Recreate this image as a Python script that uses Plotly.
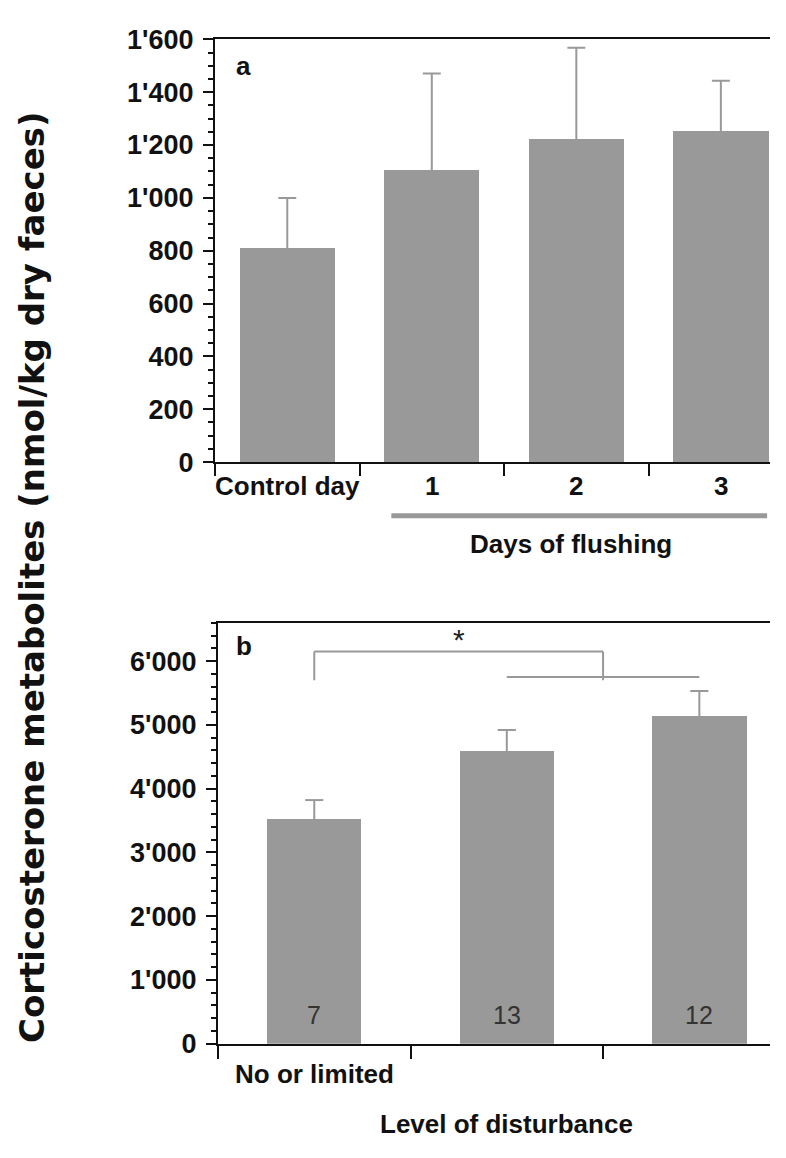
import plotly.graph_objects as go

W, H = 786, 1158

# ---------------- data ----------------
cat_a = ["Control day", "1", "2", "3"]
mean_a = [810, 1105, 1223, 1253]
err_a = [190, 366, 345, 190]
yticks_a = [0, 200, 400, 600, 800, 1000, 1200, 1400, 1600]
yticktext_a = ["0", "200", "400", "600", "800", "1'000", "1'200", "1'400", "1'600"]

cat_b = ["No or limited", "", ""]
mean_b = [3520, 4590, 5140]
err_b = [300, 330, 390]
n_b = ["7", "13", "12"]
yticks_b = [0, 1000, 2000, 3000, 4000, 5000, 6000]
yticktext_b = ["0", "1'000", "2'000", "3'000", "4'000", "5'000", "6'000"]

BAR = "#999999"
FONT = "Liberation Sans"


def py(pix):
    return 1 - pix / H


def px(pix):
    return pix / W


def err_path(xs, means, errs, cap):
    """Upper-only error bars (stem + cap) built from the data."""
    ex, ey = [], []
    for x, m, e in zip(xs, means, errs):
        ex += [x, x, None, x - cap, x + cap, None]
        ey += [m, m + e, None, m + e, m + e, None]
    return ex, ey


xa = list(range(len(cat_a)))
xb = list(range(len(cat_b)))

fig = go.Figure()
fig.add_trace(go.Bar(
    x=xa, y=mean_a, width=0.66, marker=dict(color=BAR, line=dict(width=0)),
    xaxis="x", yaxis="y", hoverinfo="skip"))
ex, ey = err_path(xa, mean_a, err_a, 0.062)
fig.add_trace(go.Scatter(x=ex, y=ey, mode="lines", line=dict(color=BAR, width=2),
                         xaxis="x", yaxis="y", hoverinfo="skip"))
fig.add_trace(go.Bar(
    x=xb, y=mean_b, width=0.49, marker=dict(color=BAR, line=dict(width=0)),
    xaxis="x2", yaxis="y2", hoverinfo="skip"))
ex, ey = err_path(xb, mean_b, err_b, 0.047)
fig.add_trace(go.Scatter(x=ex, y=ey, mode="lines", line=dict(color=BAR, width=2),
                         xaxis="x2", yaxis="y2", hoverinfo="skip"))

axis_common = dict(showline=True, linecolor="#111", linewidth=2, showgrid=False,
                   zeroline=False, ticks="outside", tickcolor="#111", tickwidth=2)
tickfont = dict(family=FONT, size=27, color="#111", weight="bold")

fig.update_layout(
    width=W, height=H, margin=dict(l=0, r=0, t=0, b=0),
    paper_bgcolor="white", plot_bgcolor="white", showlegend=False, bargap=0,
    font=dict(family=FONT, color="#111"),
    xaxis=dict(domain=[px(215), px(770)], range=[-0.5, 3.34], anchor="y",
               tickvals=[-0.5, 0.5, 1.5, 2.5], showticklabels=False, ticklen=12,
               mirror=True, **axis_common),
    yaxis=dict(domain=[py(459), py(25)], range=[0, 1600], anchor="x",
               tickvals=yticks_a, ticktext=yticktext_a, ticklen=10,
               ticklabelstandoff=4, tickfont=tickfont,
               minor=dict(dtick=50, tick0=0, ticks="outside", ticklen=5,
                          tickcolor="#111", tickwidth=2),
               **axis_common),
    xaxis2=dict(domain=[px(218), px(770)], range=[-0.5, 2.367], anchor="y2",
                tickvals=[-0.5, 0.5, 1.5], showticklabels=False, ticklen=13,
                mirror=True, **axis_common),
    yaxis2=dict(domain=[py(1056), py(624)], range=[0, 6600], anchor="x2",
                tickvals=yticks_b, ticktext=yticktext_b, ticklen=10,
                ticklabelstandoff=4, tickfont=tickfont,
                minor=dict(dtick=200, tick0=0, ticks="outside", ticklen=5,
                           tickcolor="#111", tickwidth=2),
                **axis_common),
)

ann = []
bold = dict(family=FONT, size=26, color="#111", weight="bold")
# panel a category labels
for i, c in enumerate(cat_a):
    ann.append(dict(x=i, y=py(484), xref="x", yref="paper", text=c, showarrow=False,
                    font=bold, xanchor="center", yanchor="middle"))
# panel b category labels
for i, c in enumerate(cat_b):
    if c:
        ann.append(dict(x=i, y=py(1087), xref="x2", yref="paper", text=c, showarrow=False,
                        font=bold, xanchor="center", yanchor="middle"))
# n inside bars
for i, n in enumerate(n_b):
    ann.append(dict(x=i, y=py(1027), xref="x2", yref="paper", text=n, showarrow=False,
                    font=dict(family=FONT, size=25, color="#333"),
                    xanchor="center", yanchor="middle"))
# panel letters
ann.append(dict(x=px(243), y=py(52), xref="paper", yref="paper", text="a", showarrow=False,
                font=bold, xanchor="center", yanchor="middle"))
ann.append(dict(x=px(244), y=py(648), xref="paper", yref="paper", text="b", showarrow=False,
                font=bold, xanchor="center", yanchor="middle"))
# axis titles
ann.append(dict(x=1.96, y=py(543), xref="x", yref="paper", text="Days of flushing",
                showarrow=False, font=bold, xanchor="center", yanchor="middle"))
ann.append(dict(x=1.0, y=py(1138), xref="x2", yref="paper", text="Level of disturbance",
                showarrow=False, font=bold, xanchor="center", yanchor="middle"))
ann.append(dict(x=px(32), y=py(577), xref="paper", yref="paper",
                text="Corticosterone metabolites (nmol/kg dry faeces)", textangle=-90,
                showarrow=False, xanchor="center", yanchor="middle",
                font=dict(family="DejaVu Sans", size=34, color="#111", weight="bold")))
# significance star
ann.append(dict(x=0.75, y=6346, xref="x2", yref="y2", text="*", showarrow=False,
                font=dict(family=FONT, size=30, color="#222"),
                xanchor="center", yanchor="middle"))
fig.update_layout(annotations=ann)

ln = dict(color=BAR, width=2)
shapes = [
    # flushing-days bar under the axis
    dict(type="line", xref="x", yref="paper", x0=0.72, x1=3.32, y0=py(514), y1=py(514),
         line=dict(color=BAR, width=5)),
    # significance bracket
    dict(type="line", xref="x2", yref="y2", x0=0, x1=1.5, y0=6150, y1=6150, line=ln),
    dict(type="line", xref="x2", yref="y2", x0=0, x1=0, y0=6150, y1=5700, line=ln),
    dict(type="line", xref="x2", yref="y2", x0=1.5, x1=1.5, y0=6150, y1=5700, line=ln),
    dict(type="line", xref="x2", yref="y2", x0=1, x1=2, y0=5750, y1=5750, line=ln),
]
fig.update_layout(shapes=shapes)

fig.write_html("out.html")
